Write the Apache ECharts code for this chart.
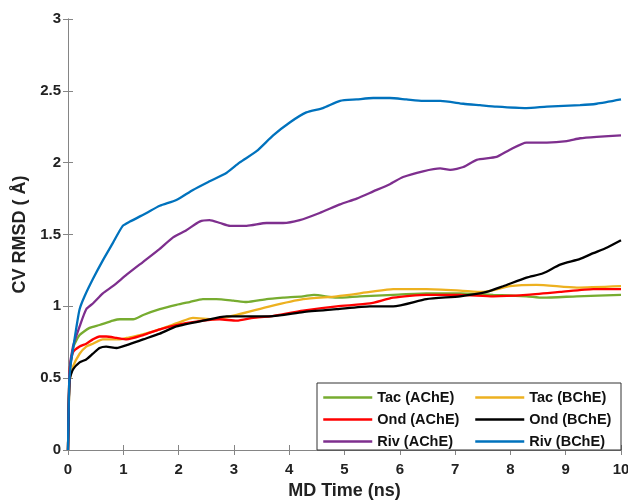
<!DOCTYPE html>
<html>
<head>
<meta charset="utf-8">
<script src="https://cdn.jsdelivr.net/npm/echarts@6/dist/echarts.min.js"></script>
<style>
  html, body { margin: 0; padding: 0; background: #fff; }
  #chart { width: 628px; height: 502px; }
</style>
</head>
<body>
<div id="chart"></div>
<script>
// [time (ns), CV RMSD (Å)]
var tacAChE = [[0,0],[0.03,0.55],[0.1,0.72],[0.21,0.80],[0.39,0.85],[0.57,0.87],[0.81,0.90],[0.94,0.91],[1.18,0.91],[1.36,0.94],[1.66,0.98],[1.96,1.01],[2.2,1.03],[2.44,1.05],[2.68,1.05],[2.99,1.04],[3.23,1.03],[3.59,1.05],[3.89,1.06],[4.25,1.07],[4.45,1.08],[4.86,1.06],[5.28,1.07],[5.88,1.08],[6.48,1.09],[7.09,1.09],[7.69,1.08],[8.29,1.07],[8.59,1.06],[9.2,1.07],[10,1.08]]
var tacBChE = [[0,0],[0.03,0.48],[0.09,0.58],[0.21,0.67],[0.33,0.72],[0.45,0.74],[0.63,0.77],[0.94,0.77],[1.06,0.78],[1.3,0.80],[1.66,0.84],[2.02,0.89],[2.26,0.92],[2.62,0.91],[3.05,0.94],[3.65,1.00],[4.25,1.05],[4.86,1.07],[5.46,1.10],[5.88,1.12],[6.48,1.12],[7.09,1.11],[7.51,1.10],[7.99,1.14],[8.47,1.15],[9.2,1.13],[10,1.14]]
var ondAChE = [[0,0],[0.03,0.56],[0.09,0.68],[0.21,0.72],[0.33,0.74],[0.45,0.77],[0.57,0.79],[0.69,0.79],[0.88,0.78],[1.06,0.77],[1.36,0.80],[1.66,0.84],[1.96,0.87],[2.44,0.90],[2.74,0.91],[3.05,0.90],[3.35,0.92],[3.65,0.93],[4.25,0.97],[4.86,1.00],[5.46,1.02],[5.88,1.06],[6.48,1.08],[7.09,1.08],[7.69,1.07],[8.29,1.08],[8.9,1.10],[9.5,1.12],[10,1.12]]
var ondBChE = [[0,0],[0.03,0.49],[0.09,0.56],[0.21,0.61],[0.33,0.63],[0.45,0.67],[0.57,0.71],[0.69,0.72],[0.88,0.71],[1.06,0.73],[1.36,0.77],[1.66,0.81],[1.96,0.86],[2.44,0.90],[2.87,0.93],[3.35,0.93],[3.65,0.93],[4.25,0.96],[4.86,0.98],[5.46,1.00],[5.88,1.00],[6.48,1.05],[7.09,1.07],[7.57,1.10],[7.87,1.14],[8.29,1.20],[8.59,1.23],[8.9,1.29],[9.26,1.33],[9.5,1.37],[9.75,1.41],[10,1.46]]
var rivAChE = [[0,0],[0.03,0.55],[0.09,0.72],[0.21,0.86],[0.33,0.98],[0.45,1.02],[0.63,1.09],[0.81,1.14],[1.06,1.22],[1.36,1.31],[1.66,1.40],[1.9,1.48],[2.14,1.53],[2.38,1.59],[2.56,1.60],[2.75,1.58],[2.93,1.56],[3.23,1.56],[3.59,1.58],[3.89,1.58],[4.19,1.60],[4.55,1.65],[4.92,1.71],[5.22,1.75],[5.52,1.80],[5.82,1.85],[6.06,1.90],[6.42,1.94],[6.73,1.96],[6.91,1.95],[7.15,1.97],[7.39,2.02],[7.75,2.04],[7.99,2.09],[8.29,2.14],[8.66,2.14],[9.02,2.15],[9.26,2.17],[9.56,2.18],[10,2.19]]
var rivBChE = [[0,0],[0.02,0.45],[0.05,0.6],[0.09,0.70],[0.15,0.85],[0.21,0.98],[0.3,1.07],[0.45,1.19],[0.63,1.32],[0.81,1.44],[0.99,1.56],[1.12,1.59],[1.42,1.65],[1.66,1.70],[1.96,1.74],[2.26,1.81],[2.56,1.87],[2.87,1.93],[3.1,2.00],[3.41,2.08],[3.71,2.19],[4.01,2.28],[4.31,2.35],[4.61,2.38],[4.92,2.43],[5.22,2.44],[5.52,2.45],[5.82,2.45],[6.12,2.44],[6.42,2.43],[6.73,2.43],[7.15,2.41],[7.45,2.40],[7.75,2.39],[8.29,2.38],[8.66,2.39],[9.26,2.40],[9.56,2.41],[10,2.44]]

var seriesNames = ['Tac (AChE)', 'Tac (BChE)', 'Ond (AChE)', 'Ond (BChE)', 'Riv (AChE)', 'Riv (BChE)']
var seriesData = [tacAChE, tacBChE, ondAChE, ondBChE, rivAChE, rivBChE]
var colors = ['#77AC30', '#EDB120', '#FF0000', '#000000', '#7E2F8E', '#0072BD']

var font = 'Liberation Sans, Arial, sans-serif'
var axisGray = '#858585'

var chart = echarts.init(document.getElementById('chart'))

var series = seriesNames.map(function (name, i) {
  return {
    name: name,
    type: 'line',
    data: seriesData[i],
    showSymbol: false,
    symbol: 'none',
    smooth: 0.2,
    color: colors[i],
    lineStyle: { width: 2.3, color: colors[i] }
  }
})

var legendText = { fontFamily: font, fontWeight: 'bold', fontSize: 14.5, color: '#111' }

chart.setOption({
  animation: false,
  // keep the plot box fixed, no auto shrinking for labels
  grid: { left: 68, right: 7, top: 19, bottom: 52, show: false, outerBoundsMode: 'none', containLabel: false },
  xAxis: [
    {
      type: 'value', min: 0, max: 10, interval: 1,
      name: 'MD Time (ns)', nameLocation: 'middle', nameGap: 32,
      nameTextStyle: { fontFamily: font, fontWeight: 'bold', fontSize: 18, color: '#222' },
      axisLine: { show: true, lineStyle: { color: axisGray } },
      axisTick: { show: true, inside: true, length: 5, lineStyle: { color: axisGray } },
      axisLabel: { margin: 12, fontFamily: font, fontWeight: 'bold', fontSize: 15, color: '#222' },
      splitLine: { show: false }
    },
    {
      type: 'value', min: 0, max: 10, interval: 1, position: 'top',
      axisLine: { show: true, lineStyle: { color: axisGray } },
      axisTick: { show: true, inside: true, length: 5, lineStyle: { color: axisGray } },
      axisLabel: { show: false },
      splitLine: { show: false }
    }
  ],
  yAxis: [
    {
      type: 'value', min: 0, max: 3, interval: 0.5,
      name: 'CV RMSD ( Å)', nameLocation: 'middle', nameGap: 35,
      nameTextStyle: { fontFamily: font, fontWeight: 'bold', fontSize: 18, color: '#222' },
      axisLine: { show: true, lineStyle: { color: axisGray } },
      axisTick: { show: true, inside: true, length: 5, lineStyle: { color: axisGray } },
      axisLabel: { margin: 7, fontFamily: font, fontWeight: 'bold', fontSize: 15, color: '#222' },
      splitLine: { show: false }
    },
    {
      type: 'value', min: 0, max: 3, interval: 0.5, position: 'right',
      axisLine: { show: true, lineStyle: { color: axisGray } },
      axisTick: { show: true, inside: true, length: 5, lineStyle: { color: axisGray } },
      axisLabel: { show: false },
      splitLine: { show: false }
    }
  ],
  graphic: [{
    type: 'rect', z: 10,
    shape: { x: 317, y: 383, width: 304, height: 67 },
    style: { fill: '#fff', stroke: '#333', lineWidth: 1 }
  }],
  legend: [
    {
      data: [seriesNames[0], seriesNames[2], seriesNames[4]],
      orient: 'vertical', left: 322, top: 390, itemGap: 7, z: 20,
      itemWidth: 49, itemHeight: 14, padding: 0,
      itemStyle: { opacity: 0 },
      lineStyle: { width: 2.5 },
      textStyle: legendText
    },
    {
      data: [seriesNames[1], seriesNames[3], seriesNames[5]],
      orient: 'vertical', left: 474, top: 390, itemGap: 7, z: 20,
      itemWidth: 49, itemHeight: 14, padding: 0,
      itemStyle: { opacity: 0 },
      lineStyle: { width: 2.5 },
      textStyle: legendText
    }
  ],
  series: series
})
</script>
</body>
</html>
